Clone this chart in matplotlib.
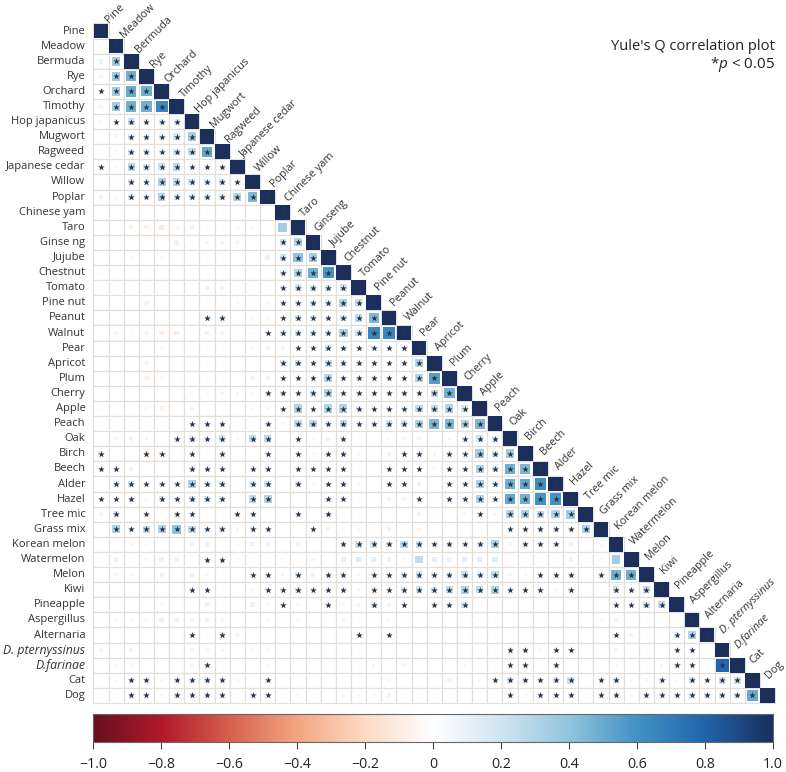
import matplotlib
matplotlib.use("Agg")
import matplotlib.pyplot as plt
from matplotlib.colors import LinearSegmentedColormap, Normalize
from matplotlib.patches import Rectangle
import numpy as np

plt.rcParams['font.family'] = ['Open Sans', 'DejaVu Sans']
plt.rcParams['mathtext.fontset'] = 'custom'
plt.rcParams['mathtext.it'] = 'Open Sans:italic'
plt.rcParams['mathtext.rm'] = 'Open Sans'

labels = ["Pine","Meadow","Bermuda","Rye","Orchard","Timothy","Hop japanicus","Mugwort","Ragweed",
          "Japanese cedar","Willow","Poplar","Chinese yam","Taro","Ginse ng","Jujube","Chestnut","Tomato",
          "Pine nut","Peanut","Walnut","Pear","Apricot","Plum","Cherry","Apple","Peach","Oak","Birch","Beech",
          "Alder","Hazel","Tree mic","Grass mix","Korean melon","Watermelon","Melon","Kiwi","Pineapple",
          "Aspergillus","Alternaria","D. pternyssinus","D.farinae","Cat","Dog"]
top_labels = ["Pine","Meadow","Bermuda","Rye","Orchard","Timothy","Hop japanicus","Mugwort","Ragweed",
          "Japanese cedar","Willow","Poplar","Chinese yam","Taro","Ginseng","Jujube","Chestnut","Tomato",
          "Pine nut","Peanut","Walnut","Pear","Apricot","Plum","Cherry","Apple","Peach","Oak","Birch","Beech",
          "Alder","Hazel","Tree mic","Grass mix","Korean melon","Watermelon","Melon","Kiwi","Pineapple",
          "Aspergillus","Alternaria","D. pternyssinus","D.farinae","Cat","Dog"]
italic_labels = ["D. pternyssinus", "D.farinae"]

# Lower-triangle Yule's Q values, one {column: value} per row (diagonal = 1)
q_rows = [
 {},
 {0:.04},
 {0:.1,1:.35},
 {0:.06,1:.35,2:.48},
 {0:.1,1:.35,2:.5,3:.48},
 {0:.06,1:.35,2:.48,3:.48,4:.65},
 {0:.04,1:.1,2:.2,3:.15,4:.15,5:.15},
 {0:.02,1:.06,2:.15,3:.15,4:.12,5:.2,6:.35},
 {0:.02,1:.04,2:.15,3:.15,4:.12,5:.2,6:.25,7:.52},
 {0:.1,1:.04,2:.25,3:.18,4:.22,5:.25,6:.1,7:.1,8:.1},
 {0:.04,1:.04,2:.15,3:.15,4:.3,5:.25,6:.22,7:.15,8:.2,9:.1},
 {0:.08,1:.04,2:.15,3:.1,4:.28,5:.18,6:.18,7:.15,8:.15,9:.3,10:.45},
 {0:.02,1:.02,2:.02,5:.02,7:.02,10:.02,11:.02},
 {0:.02,1:.02,2:-.08,3:-.08,4:-.1,5:-.06,6:-.08,7:.02,8:.02,9:.04,10:-.04,12:.35},
 {0:.02,4:.02,5:.1,6:.04,7:.06,8:.06,9:.06,10:.02,12:.2,13:.3},
 {0:.02,2:-.06,3:.02,4:-.04,7:.02,10:.02,11:.1,12:.2,13:.4,14:.35},
 {0:.04,3:.02,7:.02,8:.02,9:.02,11:.02,12:.15,13:.3,14:.48,15:.6},
 {0:.04,3:.02,4:.02,5:.02,7:.08,8:.08,9:.02,10:.02,12:.1,13:.2,14:.18,15:.18,16:.22},
 {0:.02,1:.02,2:.02,3:-.08,5:.02,7:.02,9:.04,10:.02,11:.06,12:.1,13:.12,14:.15,15:.15,16:.3,17:.25},
 {0:.02,3:.02,6:.02,7:.12,8:.12,9:.02,10:.04,11:.06,12:.1,13:.2,14:.15,15:.1,16:.2,17:.25,18:.45},
 {0:-.04,1:-.06,2:-.04,3:-.06,4:-.1,5:-.1,6:-.02,7:.1,8:.06,9:.04,10:.04,11:.1,12:.15,13:.15,14:.15,15:.15,16:.32,17:.2,18:.65,19:.65},
 {0:.02,2:.02,3:.02,4:.04,8:.02,9:.02,10:.06,11:.08,12:.06,13:.1,14:.1,15:.18,16:.12,17:.12,18:.1,19:.1,20:.12},
 {0:.02,1:-.02,2:-.02,3:-.06,8:.02,10:.02,12:.15,13:.2,14:.1,15:.22,16:.15,17:.12,18:.1,19:.1,20:.1,21:.3},
 {0:.02,1:-.02,2:-.02,3:-.08,4:-.04,5:.02,6:.02,10:.08,11:.08,12:.1,13:.1,14:.1,15:.28,16:.1,17:.1,18:.1,19:.1,20:.1,21:.3,22:.55},
 {0:.02,1:.02,6:.04,7:.04,8:.06,9:.06,10:.04,11:.1,12:.12,13:.1,14:.18,15:.3,16:.1,17:.1,18:.1,19:.1,20:.12,21:.1,22:.25,23:.48},
 {0:-.04,3:-.06,4:-.08,5:-.02,6:.06,10:.04,11:.06,12:.1,13:.3,14:.1,15:.3,16:.3,17:.15,18:.1,19:.12,20:.12,21:.25,22:.25,23:.3,24:.2},
 {0:.02,5:-.02,6:.1,7:.1,8:.1,10:.02,11:.1,12:.06,13:.25,14:.25,15:.15,16:.25,17:.1,18:.1,19:.2,20:.2,21:.3,22:.45,23:.45,24:.3,25:.45},
 {1:-.06,2:.08,3:.06,4:.02,5:.1,6:.15,7:.1,8:.2,9:.04,10:.25,11:.25,13:.1,14:.04,15:.08,16:.1,19:.04,20:.06,21:.06,22:.02,23:.06,24:.1,25:.2,26:.15},
 {0:-.12,3:-.15,4:-.1,5:-.02,6:.1,8:.12,11:.1,12:.04,13:.1,14:.04,15:.1,16:.12,17:.06,18:.04,19:.08,20:.1,21:.12,22:.06,23:.1,24:.1,25:.35,26:.2,27:.35},
 {0:.1,1:.12,2:.08,3:.02,6:.15,7:.12,8:.12,9:.02,10:.12,11:.15,12:.02,13:.1,14:.1,15:.1,16:.1,19:.1,20:.1,21:.1,22:.04,23:.1,24:.1,25:.3,26:.2,27:.48,28:.45},
 {1:.15,2:.18,3:.1,4:.1,5:.1,6:.3,7:.15,8:.18,9:.04,10:.18,11:.22,13:.15,14:.04,15:.1,16:.12,17:.06,19:.1,20:.1,21:.08,23:.1,24:.1,25:.3,26:.15,27:.48,28:.52,29:.62},
 {0:.1,1:.1,2:.12,3:.04,4:.15,5:.1,6:.2,7:.15,8:.15,9:.02,10:.25,11:.3,12:.02,13:.02,14:.02,15:.1,16:.1,19:.06,20:.06,21:.1,23:.1,24:.1,25:.3,26:.1,27:.52,28:.48,29:.6,30:.6},
 {0:-.06,1:.15,2:-.02,3:-.1,4:-.04,5:-.12,6:.1,7:-.04,8:-.02,9:-.12,10:.1,11:.02,12:.02,13:.1,14:.02,15:.1,16:.04,17:.02,18:.02,21:-.08,22:-.04,24:.06,25:.1,26:.04,27:.3,28:.3,29:.25,30:.3,31:.35},
 {0:.02,1:.3,2:.1,3:.25,4:.3,5:.4,6:.25,7:.1,8:.15,9:.06,10:.15,11:.1,14:.1,15:.08,16:.04,17:.04,19:.08,21:-.06,27:.1,28:.1,29:.15,30:.15,31:.1,32:.3},
 {2:.06,3:.04,6:.08,7:.1,9:.04,10:.08,11:.08,13:.08,15:.02,16:.1,17:.2,18:.2,19:.15,20:.25,21:.2,22:.1,23:.15,24:.1,25:.15,26:.3,27:.06,28:.1,29:.1,30:.1,31:.08,33:.04},
 {1:.1,3:.06,4:.1,5:.08,6:.02,7:.1,8:.1,9:.04,12:.04,13:.02,14:.06,15:.02,16:.1,17:.16,18:.13,19:.1,20:.04,21:.25,22:.12,23:.08,24:.12,25:.13,26:.14,30:.02,31:.08,33:.04,34:.35},
 {1:.06,2:.05,3:.02,4:.08,5:.02,6:.08,7:.05,9:.02,10:.1,11:.12,12:.05,13:.15,14:.08,15:.1,16:.1,17:.05,18:.1,19:.1,20:.15,21:.2,22:.15,23:.15,24:.22,25:.15,26:.25,27:.05,28:.04,29:.1,30:.1,31:.1,32:.02,33:.1,34:.48,35:.48},
 {6:.1,7:.1,10:.06,11:.1,12:.1,13:.15,14:.1,15:.1,16:.1,17:.04,18:.1,19:.1,20:.15,21:.2,22:.18,23:.25,24:.3,25:.25,26:.3,27:.1,28:.1,29:.1,30:.05,31:.1,32:.02,34:.2,35:.12,36:.25},
 {4:.04,7:.1,10:.1,11:.05,12:.1,13:.05,15:.1,16:.04,17:.06,18:.15,19:.06,20:.1,21:.02,22:.1,23:.1,24:.2,25:.02,26:.02,27:-.02,29:.02,30:.02,34:.1,35:.1,36:.2,37:.25},
 {1:.04,2:.04,3:.04,4:.1,5:.08,6:.05,7:.1,8:.06,11:.04,13:-.04,14:-.02,16:-.06,18:.02,19:.04,21:-.02,22:.02,23:-.02,25:-.04,27:.02,28:.02,32:.02,33:.04,34:.08,37:.02,38:.02},
 {2:.02,3:.02,6:.1,8:.12,9:-.06,10:.02,16:-.02,17:.1,19:.1,20:.02,23:.02,24:.02,30:.02,31:.02,33:.02,34:.1,35:.08,37:.04,38:.12,39:.3},
 {0:-.06,2:.08,3:.04,6:.05,7:.05,8:.04,10:.05,11:.06,12:.02,17:.02,19:.02,20:.02,26:.02,27:.12,28:.12,29:.06,30:.1,31:.1,32:.02,34:.05,37:.02,38:.1,39:.1},
 {1:-.05,2:.06,6:.05,7:.1,8:.02,11:.04,16:.02,17:.02,18:.05,20:.06,22:.02,23:.02,24:.04,26:.02,27:.1,28:.1,29:.02,30:.1,32:.02,34:.04,36:.02,37:.05,38:.1,39:.1,40:.04,41:.8},
 {1:-.04,2:.1,3:.1,4:.05,5:.1,6:.12,7:.15,8:.1,9:.05,11:.1,14:.02,15:.02,17:.02,18:.02,19:.06,20:.02,21:.02,22:.02,23:.08,25:.04,26:.1,27:.15,28:.1,29:.1,30:.15,31:.2,33:.1,34:.15,35:.04,36:.06,37:.1,38:.04,39:.15,40:.1,41:.2,42:.2},
 {0:.02,2:.12,3:.1,4:.05,5:.12,6:.1,7:.1,8:.1,10:.1,11:.1,13:-.04,15:.02,16:-.06,17:.04,18:.05,19:.08,20:.02,27:.1,28:.05,29:.1,30:.1,31:.1,33:.1,34:.1,35:.04,36:.1,37:.1,38:.1,39:.15,40:.15,41:.15,42:.15,43:.5},
]

# Columns carrying a significance star, row by row (off-diagonal)
sig_rows = [
 [],[],[1],[1,2],[0,1,2,3],[1,2,3,4],[1,2,3,4,5],[2,3,4,5,6],[2,3,4,5,6,7],[0,2,3,4,5,6,7,8],
 [2,3,4,5,6,7,8,9],[2,3,4,5,6,7,8,9,10],[],[],[12,13],[12,13,14],[12,13,14,15],[12,13,14,15,16],
 [12,13,14,15,16,17],[7,8,12,13,14,15,16,17,18],[11,12,13,14,15,16,17,18,19],
 [13,14,15,16,17,18,19,20],[12,13,14,15,16,17,18,19,20,21],[12,13,14,15,16,17,18,19,20,21,22],
 [11,12,13,14,15,16,17,18,19,20,21,22,23],[12,13,14,15,16,17,18,19,20,21,22,23,24],
 [6,7,8,11,13,14,15,16,17,18,19,20,21,22,23,24,25],
 [5,6,7,8,10,11,13,16,24,25,26],
 [0,3,4,6,8,11,13,15,16,20,21,23,24,25,26,27],
 [0,1,6,7,8,10,11,13,14,15,16,19,20,21,23,24,25,26,27,28],
 [1,2,3,4,5,6,7,8,10,11,13,15,16,19,20,23,24,25,26,27,28,29],
 [0,1,2,4,5,6,7,8,10,11,15,16,21,23,24,25,26,27,28,29,30],
 [1,3,5,6,9,10,13,15,25,27,28,29,30,31],
 [1,2,3,4,5,6,7,8,10,11,14,27,28,29,30,31,32],
 [16,17,18,19,20,21,22,23,24,25,26,28,29,30],
 [7,8],
 [10,11,13,15,16,18,19,20,21,22,23,24,25,26,29,30,31,33,34,35],
 [6,7,11,12,13,14,15,16,18,19,20,21,22,23,24,25,26,27,28,29,31,34,35,36],
 [12,15,18,20,22,23,24,34,35,36,37],
 [],
 [6,8,17,19,34,38,39],
 [27,28,30,31,38,39],
 [7,27,28,30,38,39,41],
 [2,3,5,6,7,8,11,26,27,28,29,30,31,33,34,37,39,40,41,42],
 [2,3,5,6,7,8,10,11,27,29,30,31,33,34,36,37,38,39,40,41,42,43],
]

cbar_ticks = [-1.0,-0.8,-0.6,-0.4,-0.2,0,0.2,0.4,0.6,0.8,1.0]
cbar_ticklabels = ["\u22121.0","\u22120.8","\u22120.6","\u22120.4","\u22120.2","0","0.2","0.4","0.6","0.8","1.0"]

cmap = LinearSegmentedColormap.from_list("rdbu", ["#67101F","#B2182B","#D6604D","#F4A582","#FDDBC7","#FFFFFF",
                                                   "#D1E5F0","#92C5DE","#4393C3","#2166AC","#1A2F5E"], N=256)
norm = Normalize(-1, 1)
W, H = 786, 772
n = len(labels)
fig = plt.figure(figsize=(W/100, H/100), dpi=100)
cell_x, cell_y = 15.15, 15.1
x0, y0 = 101 - cell_x/2, 31 - cell_y/2
ax = fig.add_axes([x0/W, 1-(y0+n*cell_y)/H, n*cell_x/W, n*cell_y/H])
ax.set_xlim(-0.5, n-0.5); ax.set_ylim(n-0.5, -0.5); ax.axis('off')

grid = "#e2dedc"
sx, sy = [], []
for i, row in enumerate(q_rows):
    for j in range(i+1):
        v = 1.0 if j == i else row.get(j, 0.0)
        ax.add_patch(Rectangle((j-.5, i-.5), 1, 1, fc='white', ec=grid, lw=0.85, zorder=1, clip_on=False))
        if v != 0:
            side = np.sqrt(abs(v))*0.97
            ax.add_patch(Rectangle((j-side/2, i-side/2), side, side, fc=cmap(norm(v)), ec='none', zorder=2))
    for j in sig_rows[i] + [i]:
        sx.append(j); sy.append(i)
ax.scatter(sx, sy, marker='*', s=24, c='#2a3342', linewidths=0, zorder=3)

for i, name in enumerate(labels):
    ital = name in italic_labels
    ax.annotate(name, xy=(-0.5, i), xytext=(-8, 0), textcoords='offset pixels', ha='right', va='center',
                fontsize=8.8 if ital else 8, color='#333333', style='italic' if ital else 'normal',
                annotation_clip=False)
for i, name in enumerate(top_labels):
    ital = name in italic_labels
    ax.annotate(name, xy=(i, i-.5), xytext=(10-7*i/(n-1), -2+9*i/(n-1)), textcoords='offset pixels',
                ha='left', va='bottom', rotation=45, rotation_mode='anchor', fontsize=7.8,
                color='#333333', style='italic' if ital else 'normal', annotation_clip=False)

cax = fig.add_axes([93/W, 1-742/H, 680/W, 28/H])
grad = np.linspace(-1, 1, 512)[None, :]
cax.imshow(grad, aspect='auto', cmap=cmap, norm=norm, extent=[-1, 1, 0, 1])
cax.set_yticks([])
cax.set_xticks(cbar_ticks); cax.set_xticklabels(cbar_ticklabels, fontsize=10.2, color='#222222')
cax.tick_params(axis='x', length=5, width=0.8, color='#444444', pad=6)
for s in cax.spines.values():
    s.set_color('#666666'); s.set_linewidth(0.8)

fig.text(775/W, 1-47/H, "Yule's Q correlation plot", ha='right', va='center', fontsize=10.5, color='#222222')
fig.text(775/W, 1-65/H, "*$\\mathit{p}$ < 0.05", ha='right', va='center', fontsize=11, color='#222222')
fig.savefig("out.png", dpi=100)
